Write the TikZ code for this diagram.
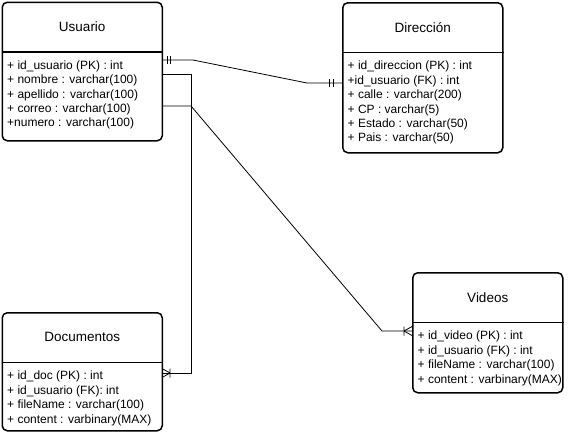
\documentclass[tikz,border=0pt]{standalone}
\usepackage{fontspec}
\setmainfont{Liberation Sans}
\usetikzlibrary{positioning}

\begin{document}
\begin{tikzpicture}[x=1pt, y=-1pt, line join=round]
\tikzstyle{entity} = [draw, line width=1.5pt, rounded corners=5pt, anchor=north west, inner sep=0pt]
\tikzstyle{enttitle} = [inner sep=0pt, minimum height=50pt, font=\fontsize{13.5}{16}\selectfont]
\tikzstyle{attrs} = [inner sep=0pt, anchor=north west, align=left, font=\fontsize{12}{14.4}\selectfont, xshift=5.5pt, yshift=-8.5pt]
\tikzstyle{sep} = [line width=1.5pt]
\tikzstyle{rel} = [line width=0.8pt]
\useasboundingbox (0,0) rectangle (572,432);

% Usuario
\node[entity, minimum width=160pt, minimum height=138.5pt] (usr) at (1.5,1.5) {};
\node[enttitle, below=0pt of usr.north] (usrT) {Usuario};
\draw[sep] (usr.west |- usrT.south) -- (usr.east |- usrT.south);
\node[attrs] (usrA) at (usr.west |- usrT.south) {+ id\_usuario (PK) : int\\+ nombre : varchar(100)\\+ apellido : varchar(100)\\+ correo : varchar(100)\\+numero : varchar(100)};

% Direccion
\node[entity, minimum width=160pt, minimum height=150pt] (dir) at (342,2) {};
\node[enttitle, below=0pt of dir.north] (dirT) {Dirección};
\draw[sep] (dir.west |- dirT.south) -- (dir.east |- dirT.south);
\node[attrs] (dirA) at (dir.west |- dirT.south) {+ id\_direccion (PK) : int\\+id\_usuario (FK) : int\\+ calle : varchar(200)\\+ CP : varchar(5)\\+ Estado : varchar(50)\\+ Pais : varchar(50)};

% Documentos
\node[entity, minimum width=160pt, minimum height=118pt] (doc) at (1.5,312) {};
\node[enttitle, below=0pt of doc.north] (docT) {Documentos};
\draw[sep] (doc.west |- docT.south) -- (doc.east |- docT.south);
\node[attrs] (docA) at (doc.west |- docT.south) {+ id\_doc (PK) : int\\+ id\_usuario (FK): int\\+ fileName : varchar(100)\\+ content : varbinary(MAX)};

% Videos
\node[entity, minimum width=150pt, minimum height=120pt] (vid) at (412,272) {};
\node[enttitle, below=0pt of vid.north] (vidT) {Videos};
\draw[sep] (vid.west |- vidT.south) -- (vid.east |- vidT.south);
\node[attrs] (vidA) at (vid.west |- vidT.south) {+ id\_video (PK) : int\\+ id\_usuario (FK) : int\\+ fileName : varchar(100)\\+ content : varbinary(MAX)};

% relaciones
\draw[rel] (usr.east |- 0,60) -- (193,60) -- (307,83) -- (dir.west |- 0,83);
\draw[rel] (167,56) -- (167,64) (170,56) -- (170,64);
\draw[rel] (329,79) -- (329,87) (333,79) -- (333,87);

\draw[rel] (usr.east |- 0,74) -- (191,74) -- (191,373) -- (doc.east |- 0,373);
\draw[rel] (162,368.5) -- (170,373) -- (162,377.5) (170,368.5) -- (170,377.5);

\draw[rel] (usr.east |- 0,106) -- (191,106) -- (382,331) -- (vid.west |- 0,331);
\draw[rel] (412,326.5) -- (404,331) -- (412,335.5) (404,326.5) -- (404,335.5);
\end{tikzpicture}
\end{document}
